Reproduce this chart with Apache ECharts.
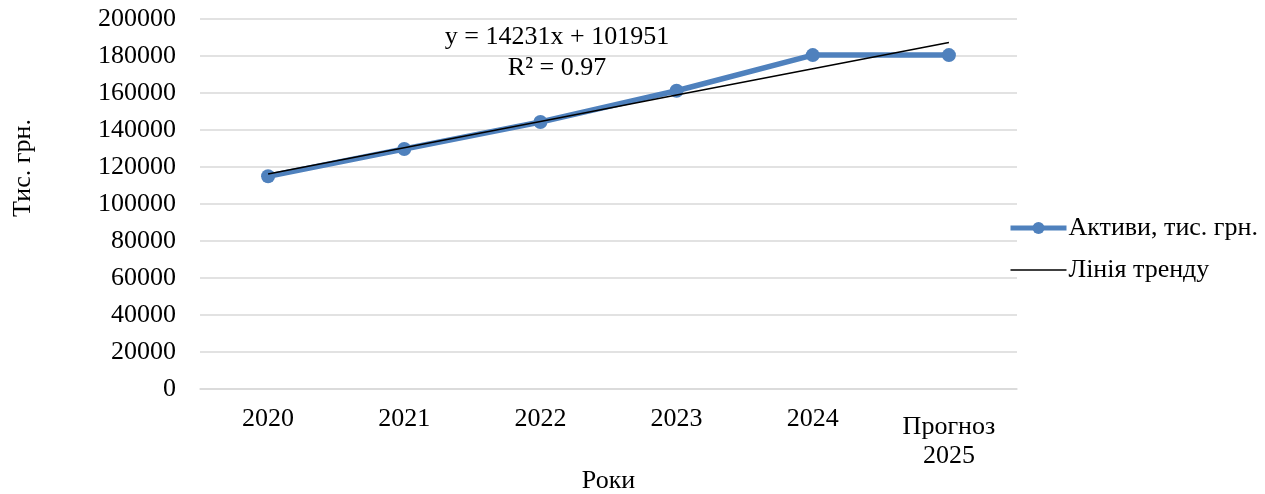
<!DOCTYPE html>
<html>
<head>
<meta charset="utf-8">
<script src="https://cdn.jsdelivr.net/npm/echarts@6/dist/echarts.min.js"></script>
<style>
html,body{margin:0;padding:0;background:#fff;}
#chart{width:1265px;height:494px;}
</style>
</head>
<body>
<div id="chart"></div>
<script>
const categories = ['2020', '2021', '2022', '2023', '2024', 'Прогноз\n2025'];
const assets = [115000, 129700, 144300, 161200, 180500, 180500];
const trend = [116182, 130413, 144644, 158875, 173106, 187337];
const yTicks = { min: 0, max: 200000, interval: 20000 };
const equationText = 'y = 14231x + 101951';
const r2Text = 'R² = 0.97';

const FONT = '"Liberation Serif", "Times New Roman", serif';
const FS = 26;
const chart = echarts.init(document.getElementById('chart'), null, { renderer: 'canvas' });
chart.setOption({
  animation: false,
  backgroundColor: '#ffffff',
  textStyle: { fontFamily: FONT, color: '#000' },
  grid: { left: 200, right: 248, top: 19, bottom: 105, containLabel: false, outerBoundsMode: 'none' },
  xAxis: {
    type: 'category',
    data: categories.map((c, i) => i === categories.length - 1
      ? { value: c, textStyle: { padding: [8, 0, 0, 0] } }
      : c),
    boundaryGap: true,
    name: 'Роки',
    nameLocation: 'middle',
    nameGap: 79,
    nameMoveOverlap: false,
    nameTextStyle: { fontFamily: FONT, fontSize: FS, color: '#000' },
    axisLine: { show: true, lineStyle: { color: '#d9d9d9', width: 1.5 } },
    axisTick: { show: false },
    axisLabel: { fontFamily: FONT, fontSize: FS, color: '#000', margin: 16, lineHeight: 29, interval: 0 }
  },
  yAxis: {
    type: 'value',
    min: yTicks.min, max: yTicks.max, interval: yTicks.interval,
    name: 'Тис. грн.',
    nameLocation: 'middle',
    nameGap: 164,
    nameMoveOverlap: false,
    nameRotate: 90,
    nameTextStyle: { fontFamily: FONT, fontSize: FS, color: '#000', padding: [0, 0, 0, 72] },
    axisLine: { show: false },
    axisTick: { show: false },
    splitLine: { lineStyle: { color: '#d9d9d9', width: 1.5 } },
    axisLabel: { fontFamily: FONT, fontSize: FS, color: '#000', margin: 24, formatter: v => String(v) }
  },
  legend: {
    orient: 'vertical',
    left: 1008,
    top: 215,
    padding: 0,
    itemWidth: 56,
    itemHeight: 15,
    itemGap: 16,
    textStyle: { fontFamily: FONT, fontSize: FS, color: '#000', padding: [0, 0, 0, -3] },
    data: [
      { name: 'Активи, тис. грн.', lineStyle: { width: 5, color: '#4f81bd' } },
      { name: 'Лінія тренду', lineStyle: { width: 1.5, color: '#000' }, itemStyle: { opacity: 0 } }
    ]
  },
  series: [
    {
      name: 'Активи, тис. грн.',
      type: 'line',
      data: assets,
      symbol: 'circle',
      symbolSize: 14,
      lineStyle: { color: '#4f81bd', width: 5.5 },
      itemStyle: { color: '#4f81bd' },
      z: 2
    },
    {
      name: 'Лінія тренду',
      type: 'line',
      data: trend,
      symbol: 'none',
      lineStyle: { color: '#000', width: 1.5 },
      itemStyle: { color: '#000' },
      z: 3
    }
  ],
  graphic: [
    { type: 'text', x: 557, y: 24, style: { text: equationText, font: FS + 'px ' + FONT, fill: '#000', align: 'center' } },
    { type: 'text', x: 557, y: 55, style: { text: r2Text, font: FS + 'px ' + FONT, fill: '#000', align: 'center' } }
  ]
});
</script>
</body>
</html>
